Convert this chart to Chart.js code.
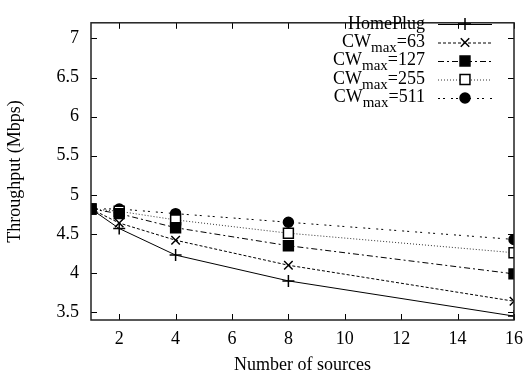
<!DOCTYPE html>
<html lang="en">
<head>
  <meta charset="UTF-8" />
  <title>Throughput vs number of sources</title>
  <script src="https://cdn.jsdelivr.net/npm/chart.js"></script>
  <style>
    html, body { margin: 0; padding: 0; background: #fff; }
    #wrap { width: 531px; height: 378px; }
  </style>
</head>
<body>
  <div id="wrap"><canvas id="tputChart"></canvas></div>

  <script>
    // data
    const sources = [1, 2, 4, 8, 16];
    const homePlug = [4.82, 4.57, 4.23, 3.90, 3.45];
    const cw63 = [4.82, 4.64, 4.42, 4.10, 3.64];
    const cw127 = [4.82, 4.76, 4.58, 4.35, 3.99];
    const cw255 = [4.82, 4.79, 4.68, 4.51, 4.26];
    const cw511 = [4.82, 4.82, 4.76, 4.65, 4.43];

    const xTicks = [2, 4, 6, 8, 10, 12, 14, 16];
    const yTicks = [3.5, 4, 4.5, 5, 5.5, 6, 6.5, 7];

    const seriesNames = ['HomePlug', 'CW|max|=63', 'CW|max|=127', 'CW|max|=255', 'CW|max|=511'];
    const seriesValues = [homePlug, cw63, cw127, cw255, cw511];

    const FONT = "'Liberation Serif', 'Times New Roman', serif";

    const styles = [
      { dash: [], marker: 'cross', r: 6, fill: '#000', color: '#000' },
      { dash: [3, 2], marker: 'crossRot', r: 6, fill: '#000', color: '#000' },
      { dash: [6, 3, 2, 3], marker: 'rect', r: 7, fill: '#000', color: '#000' },
      { dash: [1, 2], marker: 'rect', r: 7, fill: '#fff', color: '#333' },
      { dash: [2, 3, 2, 6], marker: 'circle', r: 5, fill: '#000', color: '#000' }
    ];

    const datasets = seriesNames.map((name, i) => ({
      label: name,
      data: sources.map((x, j) => ({ x: x, y: seriesValues[i][j] })),
      borderColor: styles[i].color,
      borderWidth: 1,
      borderDash: styles[i].dash,
      pointStyle: styles[i].marker,
      pointRadius: styles[i].r,
      pointBorderColor: '#000',
      pointBorderWidth: 1.5,
      pointBackgroundColor: styles[i].fill,
      tension: 0,
      fill: false
    }));

    // frame with inward ticks on all four sides (gnuplot style)
    const framePlugin = {
      id: 'frame',
      afterDatasetsDraw(chart) {
        const { ctx, chartArea: a, scales } = chart;
        const len = 6;
        ctx.save();
        ctx.strokeStyle = '#000';
        ctx.lineWidth = 1;
        ctx.setLineDash([]);
        ctx.beginPath();
        xTicks.forEach(v => {
          const px = Math.round(scales.x.getPixelForValue(v)) + 0.5;
          ctx.moveTo(px, a.bottom); ctx.lineTo(px, a.bottom - len);
          ctx.moveTo(px, a.top); ctx.lineTo(px, a.top + len);
        });
        yTicks.forEach(v => {
          const py = Math.round(scales.y.getPixelForValue(v)) + 0.5;
          ctx.moveTo(a.left, py); ctx.lineTo(a.left + len, py);
          ctx.moveTo(a.right, py); ctx.lineTo(a.right - len, py);
        });
        ctx.stroke();
        ctx.lineWidth = 1.5;
        ctx.strokeStyle = '#222';
        ctx.strokeRect(a.left, a.top, a.right - a.left, a.bottom - a.top);
        ctx.restore();
      }
    };

    // legend with subscripted labels, drawn top right inside the plot
    const legendPlugin = {
      id: 'subLegend',
      afterDraw(chart) {
        const { ctx, chartArea: a } = chart;
        const textRight = a.right - 89;
        const lineL = a.right - 76, lineR = a.right - 22;
        const mid = (lineL + lineR) / 2;
        const rowY = [24, 42.5, 61, 79.5, 98];
        ctx.save();
        ctx.fillStyle = '#000';
        seriesNames.forEach((name, i) => {
          const y = rowY[i];
          const parts = name.split('|');
          if (parts.length === 1) {
            ctx.font = '18px ' + FONT;
            ctx.textAlign = 'right';
            ctx.textBaseline = 'alphabetic';
            ctx.fillText(name, textRight, y + 5);
          } else {
            const big = '18px ' + FONT, small = '15px ' + FONT;
            ctx.font = big;
            const w1 = ctx.measureText(parts[0]).width;
            const w3 = ctx.measureText(parts[2]).width;
            ctx.font = small;
            const w2 = ctx.measureText(parts[1]).width;
            let x = textRight - w1 - w2 - w3;
            ctx.textAlign = 'left';
            ctx.textBaseline = 'alphabetic';
            ctx.font = big;
            ctx.fillText(parts[0], x, y + 4);
            x += w1;
            ctx.font = small;
            ctx.fillText(parts[1], x, y + 9);
            x += w2;
            ctx.font = big;
            ctx.fillText(parts[2], x, y + 4);
          }
          const st = styles[i];
          ctx.strokeStyle = st.color;
          ctx.lineWidth = 1;
          ctx.setLineDash(st.dash);
          ctx.beginPath();
          ctx.moveTo(lineL, y + 0.5);
          ctx.lineTo(lineR, y + 0.5);
          ctx.stroke();
          ctx.setLineDash([]);
          ctx.strokeStyle = '#000';
          ctx.fillStyle = st.fill;
          ctx.lineWidth = 1.5;
          Chart.helpers.drawPoint(ctx, { pointStyle: st.marker, radius: st.r, borderWidth: 1.5 }, mid, y);
          ctx.fillStyle = '#000';
        });
        ctx.restore();
      }
    };

    new Chart(document.getElementById('tputChart'), {
      type: 'line',
      data: { datasets: datasets },
      plugins: [framePlugin, legendPlugin],
      options: {
        responsive: true,
        maintainAspectRatio: false,
        animation: false,
        layout: { padding: { top: 10, right: 12, left: 0, bottom: 0 } },
        plugins: {
          legend: { display: false },
          tooltip: { enabled: false }
        },
        scales: {
          x: {
            type: 'linear',
            min: 1,
            max: 16,
            afterBuildTicks: s => { s.ticks = xTicks.map(v => ({ value: v })); },
            afterFit: s => { s.height = 58; },
            grid: { display: false, drawTicks: false },
            border: { display: false },
            ticks: { color: '#000', padding: 8, maxRotation: 0, font: { family: FONT, size: 18 }, callback: v => String(v) },
            title: { display: true, text: 'Number of sources', color: '#000', font: { family: FONT, size: 18 }, padding: { top: 4, bottom: 2 } }
          },
          y: {
            min: 3.4,
            max: 7.2,
            afterBuildTicks: s => { s.ticks = yTicks.map(v => ({ value: v })); },
            afterFit: s => { s.width = 91; },
            grid: { display: false, drawTicks: false },
            border: { display: false },
            ticks: { color: '#000', padding: 12, font: { family: FONT, size: 18 }, callback: v => String(v) },
            title: { display: true, text: 'Throughput (Mbps)', color: '#000', font: { family: FONT, size: 18 }, padding: { top: 4, bottom: 4 } }
          }
        }
      }
    });
  </script>
</body>
</html>
